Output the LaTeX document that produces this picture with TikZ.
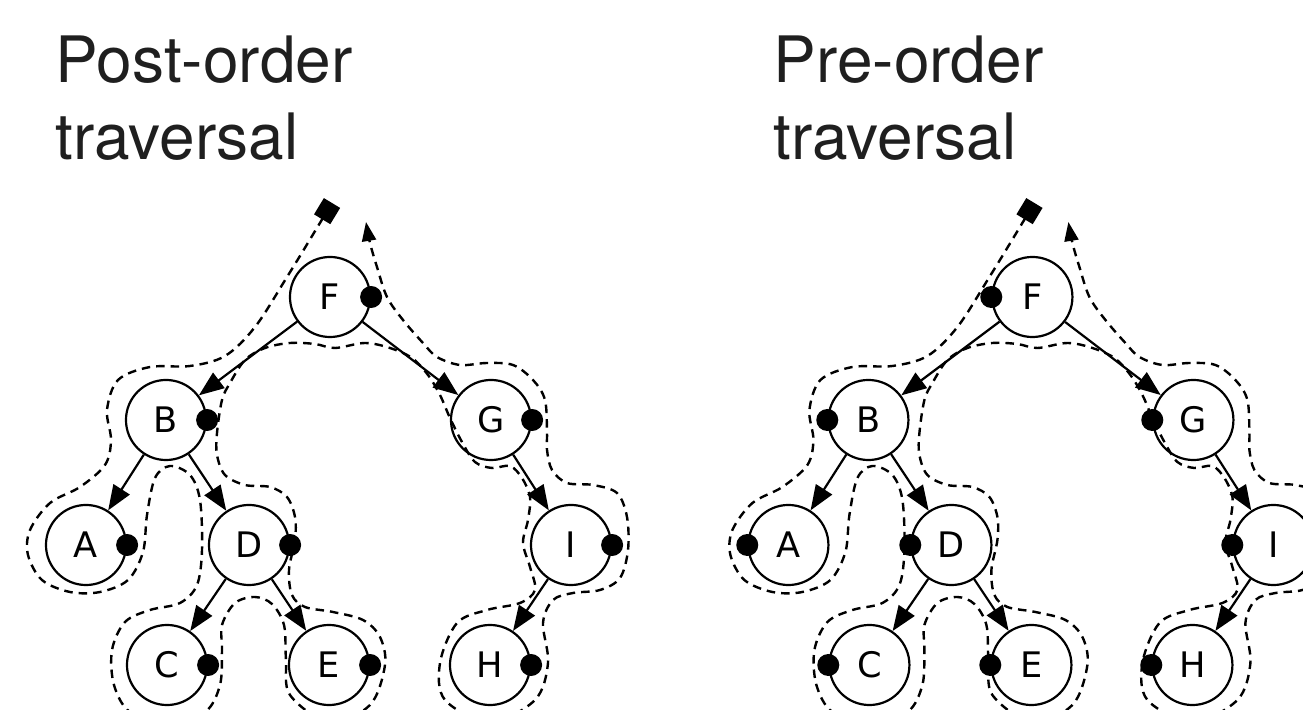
\documentclass[tikz,border=0pt]{standalone}
\usepackage{fontspec}
\usepackage{tikz}
\usetikzlibrary{arrows.meta}
\newfontfamily\titlefont{TeX Gyre Heros}
\newfontfamily\labelfont{DejaVu Sans}
\tikzset{
  vertex/.style={circle,draw=black,line width=0.022cm,minimum size=0.8cm,inner sep=0pt,font=\labelfont\fontsize{10}{11}\selectfont},
  edge/.style={line width=0.022cm,-{Triangle[length=0.25cm,width=0.19cm]}},
  visit/.style={circle,fill=black,inner sep=0pt,minimum size=0.22cm},
  tour/.style={line width=0.024cm,dash pattern=on 0.085cm off 0.06cm,
    {Square[length=0.19cm,width=0.19cm]}-{Triangle[length=0.19cm,width=0.14cm]}},
  heading/.style={anchor=base west,inner sep=0pt,align=left,text=black!88,
    font=\titlefont\fontsize{18.2}{21.9}\selectfont}
}
% one tree with its walk; #1 = side of the visit dot, #2 = name suffix
\newcommand{\traversal}[2]{%
  \node[vertex] (F#2) at (330,412) {F};
  \node[vertex] (B#2) at (166,289) {B};
  \node[vertex] (G#2) at (491,289) {G};
  \node[vertex] (A#2) at (86,164) {A};
  \node[vertex] (D#2) at (249,164) {D};
  \node[vertex] (I#2) at (571,164) {I};
  \node[vertex] (C#2) at (167,44) {C};
  \node[vertex] (E#2) at (329,44) {E};
  \node[vertex] (H#2) at (490,44) {H};
  %
  \draw[edge] (F#2) -- (B#2);
  \draw[edge] (F#2) -- (G#2);
  \draw[edge] (B#2) -- (A#2);
  \draw[edge] (B#2) -- (D#2);
  \draw[edge] (D#2) -- (C#2);
  \draw[edge] (D#2) -- (E#2);
  \draw[edge] (G#2) -- (I#2);
  \draw[edge] (I#2) -- (H#2);
  \foreach \n in {F,B,G,A,D,I,C,E,H}
    \node[visit] (\n#2dot) at (\n#2.#1) {};
  % the walk round the tree, counter-clockwise
  \draw[tour] plot[smooth,tension=0.55] coordinates {
    (332,506) (287,432) (255,382) (225,353) (190,343) (150,342)
    (118,329) (107,299) (111,269) (105,244) (80,222) (50,206)
    (30,179) (28,154) (42,129) (70,117) (100,117) (128,129)
    (143,157) (147,194) (155,231) (170,243) (190,234) (200,209)
    (202,159) (197,124) (180,106) (150,99) (125,87) (112,59)
    (114,24) (130,-3) (167,-13) (205,-3) (220,24) (222,59)
    (222,84) (235,106) (255,112) (272,105) (284,84) (286,49)
    (290,14) (329,-13) (370,4) (385,44) (380,72) (363,89)
    (333,97) (305,102) (292,114) (289,139) (295,169) (295,192)
    (287,212) (270,222) (245,224) (225,234) (217,254) (217,276)
    (222,309) (230,326) (245,349) (265,361) (290,366) (315,365)
    (335,361) (365,366) (390,361) (412,351) (428,334) (440,314)
    (450,291) (462,267) (475,247) (492,241) (510,243) (522,231)
    (530,212) (528,189) (523,166) (530,142) (535,119) (520,106)
    (487,99) (457,86) (440,46) (445,9) (490,-13) (535,9)
    (548,46) (543,86) (553,109) (573,116) (600,119) (620,131)
    (628,159) (627,192) (617,216) (593,224) (567,226) (552,239)
    (547,259) (547,276) (545,309) (533,329) (513,344) (487,346)
    (460,344) (437,352) (423,366) (403,389) (387,412) (377,442)
    (370,466) (366,487)};
}

\begin{document}
\begin{tikzpicture}[x=0.01cm,y=0.01cm]
\useasboundingbox (0,0) rectangle (1303,709);
\clip (0,0) rectangle (1303,709);
%
\node[heading] (posttitle) at (55,549) {Post-order\\traversal};
\node[heading] (pretitle) at (773,549) {Pre-order\\traversal};
%
\begin{scope}
  \traversal{east}{post}
\end{scope}
\begin{scope}[xshift=7.02cm]
  \traversal{west}{pre}
\end{scope}
\end{tikzpicture}
\end{document}
